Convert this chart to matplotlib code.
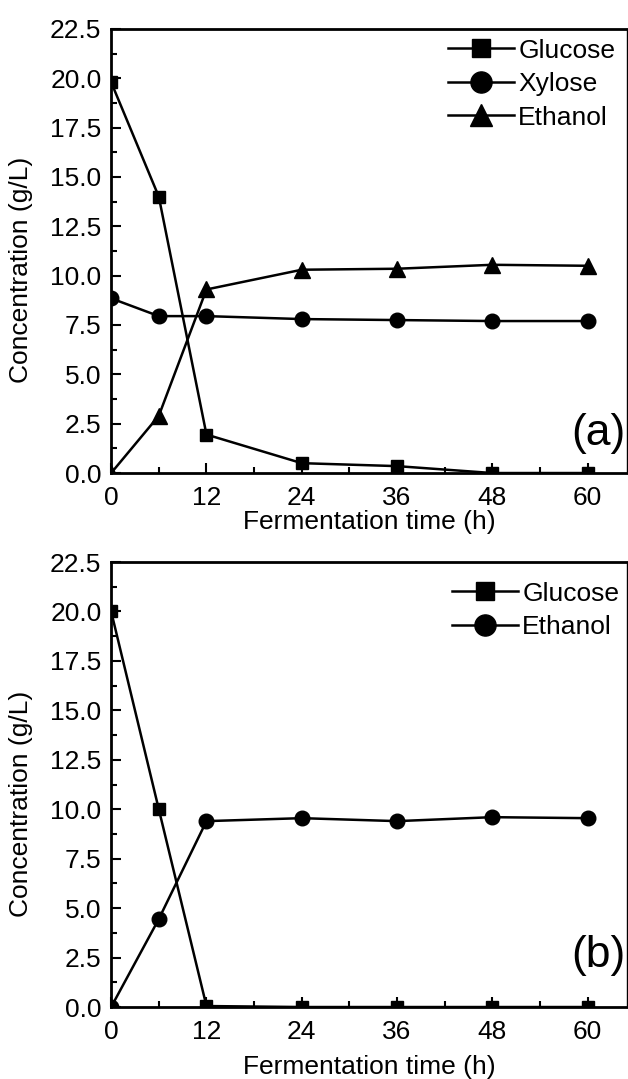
import matplotlib
matplotlib.use("Agg")
import matplotlib.pyplot as plt
from matplotlib.ticker import MultipleLocator, FormatStrFormatter

plt.rcParams['font.family'] = ['Liberation Sans', 'DejaVu Sans']

# fermentation time (h)
time_h = [0, 6, 12, 24, 36, 48, 60]

# panel (a)
glucose_a = [19.8, 14.0, 1.95, 0.5, 0.35, 0.0, 0.0]
xylose_a = [8.85, 7.95, 7.95, 7.8, 7.75, 7.7, 7.7]
ethanol_a = [0.0, 2.9, 9.3, 10.3, 10.35, 10.55, 10.5]

# panel (b)
glucose_b = [20.0, 10.0, 0.05, 0.0, 0.0, 0.0, 0.0]
ethanol_b = [0.0, 4.45, 9.4, 9.55, 9.4, 9.6, 9.55]

FS = 19

fig = plt.figure(figsize=(6.28, 10.79), dpi=100)
ax_a = fig.add_axes([0.177, 0.5616, 0.822, 0.4116])
ax_b = fig.add_axes([0.177, 0.0667, 0.822, 0.4124])


def style_axes(ax, xlabelpad):
    ax.set_xlim(0, 65)
    ax.set_ylim(0, 22.5)
    ax.xaxis.set_major_locator(MultipleLocator(12))
    ax.xaxis.set_minor_locator(MultipleLocator(6))
    ax.yaxis.set_major_locator(MultipleLocator(2.5))
    ax.yaxis.set_minor_locator(MultipleLocator(1.25))
    ax.yaxis.set_major_formatter(FormatStrFormatter('%.1f'))
    ax.tick_params(which='both', direction='in', top=False, right=False,
                   width=1.5, labelsize=FS)
    ax.tick_params(which='major', length=7)
    ax.tick_params(which='minor', length=4)
    ax.tick_params(axis='y', pad=7)
    ax.tick_params(axis='x', pad=9.5)
    for side in ['left', 'bottom', 'top']:
        ax.spines[side].set_linewidth(2.0)
    ax.spines['right'].set_linewidth(1.0)
    ax.set_xlabel("Fermentation time (h)", fontsize=FS, labelpad=xlabelpad)
    ax.set_ylabel("Concentration (g/L)", fontsize=FS)
    ax.yaxis.set_label_coords(-0.152, 0.457)


line_kw = dict(color='black', lw=1.8)
leg_kw = dict(loc='upper left', frameon=False, fontsize=FS, markerscale=1.45,
              handlelength=2.5, handletextpad=0.15, borderpad=0,
              borderaxespad=0, labelspacing=0.36)

ax_a.plot(time_h, glucose_a, marker='s', ms=8.5, label='Glucose', **line_kw)
ax_a.plot(time_h, xylose_a, marker='o', ms=10.5, label='Xylose', **line_kw)
ax_a.plot(time_h, ethanol_a, marker='^', ms=11, label='Ethanol', **line_kw)
style_axes(ax_a, 0)
ax_a.legend(bbox_to_anchor=(0.653, 0.978), **leg_kw)
ax_a.text(0.996, 0.09, "(a)", transform=ax_a.transAxes, fontsize=32,
          ha='right', va='center')

ax_b.plot(time_h, glucose_b, marker='s', ms=8.5, label='Glucose', **line_kw)
ax_b.plot(time_h, ethanol_b, marker='o', ms=10.5, label='Ethanol', **line_kw)
style_axes(ax_b, 8)
ax_b.legend(bbox_to_anchor=(0.661, 0.956), **leg_kw)
ax_b.text(0.996, 0.115, "(b)", transform=ax_b.transAxes, fontsize=32,
          ha='right', va='center')

fig.savefig("out.png", dpi=100)
